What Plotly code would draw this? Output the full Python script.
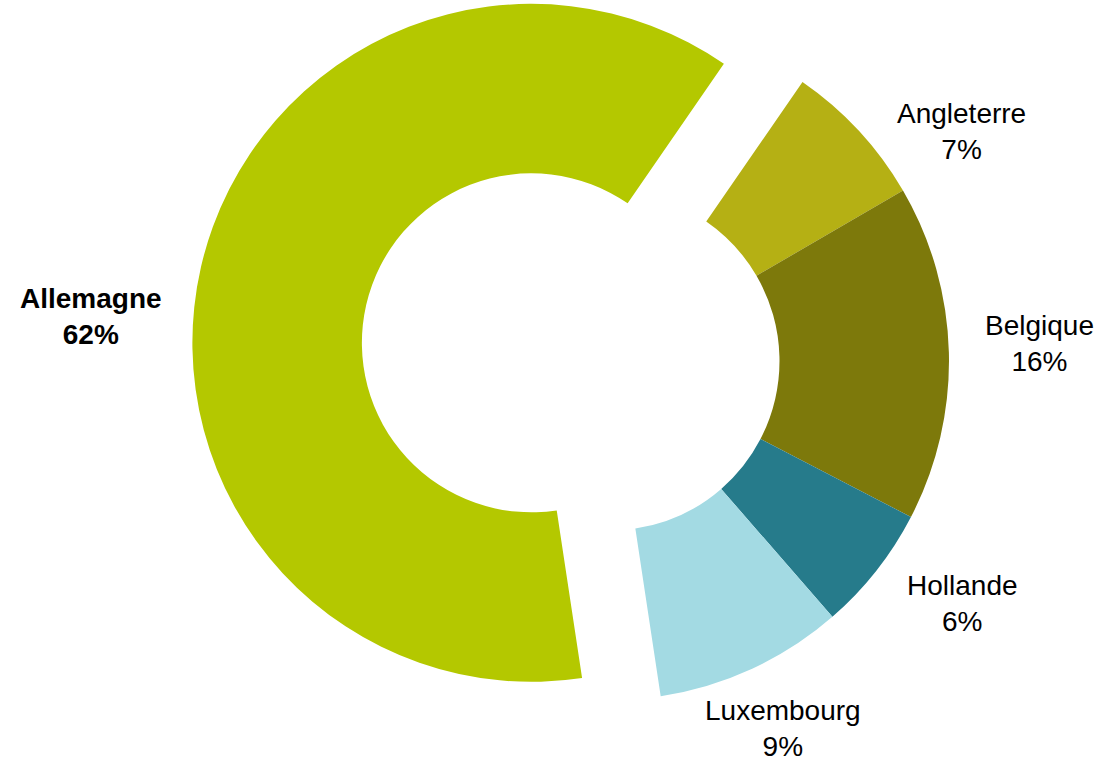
import math
import plotly.graph_objects as go

# Répartition par pays
countries = ["Angleterre", "Belgique", "Hollande", "Luxembourg", "Allemagne"]
shares = [7, 16, 6, 9, 62]
slice_colors = ["#B5B014", "#7D790B", "#267B8B", "#A3DAE3", "#B4C800"]
bold_labels = ["Allemagne"]

# Geometry / styling (pixels)
W, H = 1099, 765
CX, CY = 610, 361          # ring centre
R = 339                    # outer radius
HOLE = 0.5
ROTATION = 34.6            # start of the first slice, clockwise from 12 o'clock
PULL = 0.238               # offset of the detached slice, as a fraction of R
DETACHED = "Allemagne"

# Label block centres (pixels)
label_xy = {
    "Angleterre": (961, 131),
    "Belgique": (1039, 344),
    "Hollande": (962, 603),
    "Luxembourg": (783, 728),
    "Allemagne": (91, 316),
}

TRANSPARENT = "rgba(0,0,0,0)"


def domain_for(cx, cy):
    return dict(
        x=[(cx - R) / W, (cx + R) / W],
        y=[1 - (cy + R) / H, 1 - (cy - R) / H],
    )


# Offset of the detached slice along its bisector
total = sum(shares)
idx = countries.index(DETACHED)
start = ROTATION + 360 * sum(shares[:idx]) / total
mid = math.radians(start + 180 * shares[idx] / total)
dx = PULL * R * math.sin(mid)
dy = -PULL * R * math.cos(mid)

ring_colors = [TRANSPARENT if c == DETACHED else col for c, col in zip(countries, slice_colors)]
detached_colors = [col if c == DETACHED else TRANSPARENT for c, col in zip(countries, slice_colors)]

common = dict(
    labels=countries,
    values=shares,
    hole=HOLE,
    sort=False,
    direction="clockwise",
    rotation=ROTATION,
    textinfo="none",
    hoverinfo="label+percent",
    showlegend=False,
)

fig = go.Figure()
fig.add_trace(go.Pie(
    **common,
    marker=dict(colors=ring_colors, line=dict(width=0)),
    domain=domain_for(CX, CY),
))
fig.add_trace(go.Pie(
    **common,
    marker=dict(colors=detached_colors, line=dict(width=0)),
    domain=domain_for(CX + dx, CY + dy),
))

for name, val in zip(countries, shares):
    txt = f"{name}<br>{val}%"
    if name in bold_labels:
        txt = f"<b>{txt}</b>"
    px, py = label_xy[name]
    fig.add_annotation(
        x=px / W, y=1 - py / H, xref="paper", yref="paper",
        text=txt, showarrow=False, align="center",
        xanchor="center", yanchor="middle",
        font=dict(family="Liberation Sans, Arial, sans-serif", size=28, color="#000000"),
    )

fig.update_layout(
    width=W, height=H,
    margin=dict(l=0, r=0, t=0, b=0),
    paper_bgcolor="white",
    plot_bgcolor="white",
)

fig.write_html("out.html")
